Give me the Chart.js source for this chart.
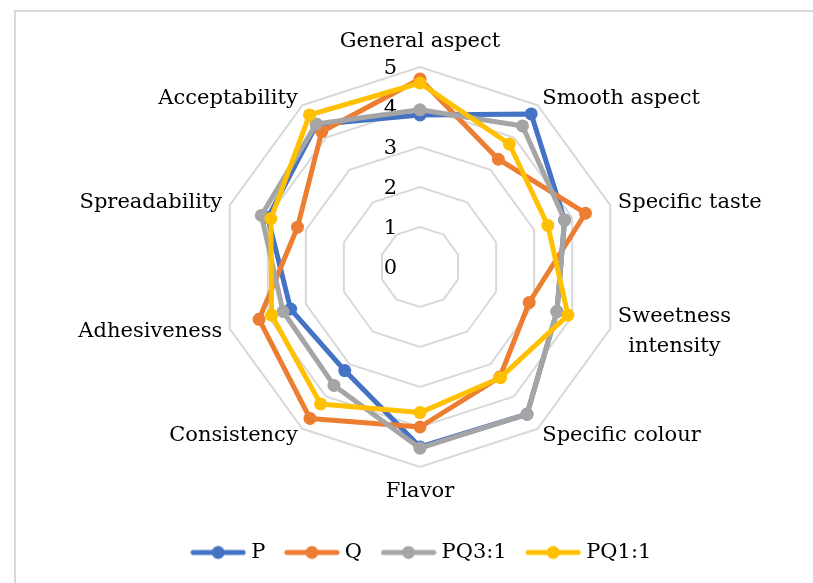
<!DOCTYPE html>
<html>
<head>
<meta charset="utf-8">
<script src="https://cdn.jsdelivr.net/npm/chart.js@4.4.0/dist/chart.umd.min.js"></script>
<style>
    body { margin: 0; background: #ffffff; }
    #frame {
        position: absolute; left: 14px; top: 10px; width: 820px; height: 600px;
        border-left: 2px solid #d9d9d9; border-top: 2px solid #d9d9d9;
    }
    #wrap { position: absolute; left: 0; top: 0; width: 813px; height: 583px; }
</style>
</head>
<body>
<div id="frame"></div>
<div id="wrap"><canvas id="radar_canvas" width="813" height="583"></canvas></div>
<script>
// categories (axes), clockwise from the top
const CATEGORIES = ['General aspect', 'Smooth aspect', 'Specific taste', ['Sweetness', 'intensity'],
    'Specific colour', 'Flavor', 'Consistency', 'Adhesiveness', 'Spreadability', 'Acceptability'];
const TICK_LABELS = ['0', '1', '2', '3', '4', '5'];
const SERIES_NAMES = ['P', 'Q', 'PQ3:1', 'PQ1:1'];
const P_VALUES = [3.8, 4.73, 3.8, 3.6, 4.55, 4.5, 3.2, 3.4, 4.0, 4.4];
const Q_VALUES = [4.7, 3.33, 4.35, 2.87, 3.4, 4.0, 4.68, 4.23, 3.22, 4.18];
const PQ31_VALUES = [3.93, 4.36, 3.8, 3.6, 4.55, 4.53, 3.66, 3.6, 4.17, 4.42];
const PQ11_VALUES = [4.6, 3.8, 3.36, 3.89, 3.42, 3.64, 4.23, 3.9, 3.92, 4.7];
const SERIES_COLORS = ['#4472c4', '#ed7d31', '#a5a5a5', '#ffc000'];

const FONT_FAMILY = '"DejaVu Serif", "Liberation Serif", serif';
const FONT_SIZE = 21;

// plot placement inside the canvas (center and outer radius of the web)
const PLOT_CENTER_X = 420;
const PLOT_CENTER_Y = 267;
const PLOT_RADIUS = 200;

// keep the web where the original sits instead of letting the labels push it around
Chart.RadialLinearScale.prototype.setCenterPoint = function () {
    this.xCenter = PLOT_CENTER_X;
    this.yCenter = PLOT_CENTER_Y;
    this.drawingArea = PLOT_RADIUS;
};

// legend marker: line with a dot, like the office style
function make_marker(color) {
    let c = document.createElement('canvas');
    c.width = 56;
    c.height = 16;
    let ctx = c.getContext('2d');
    ctx.strokeStyle = color;
    ctx.lineWidth = 5;
    ctx.lineCap = 'round';
    ctx.beginPath();
    ctx.moveTo(3, 8);
    ctx.lineTo(53, 8);
    ctx.stroke();
    ctx.fillStyle = color;
    ctx.beginPath();
    ctx.arc(28, 8, 6.5, 0, Math.PI * 2);
    ctx.fill();
    return c;
}

let all_values = [P_VALUES, Q_VALUES, PQ31_VALUES, PQ11_VALUES];
let datasets = [];
for (let i = 0; i < SERIES_NAMES.length; i++) {
    datasets.push({
        label: SERIES_NAMES[i],
        data: all_values[i],
        borderColor: SERIES_COLORS[i],
        backgroundColor: SERIES_COLORS[i],
        pointBackgroundColor: SERIES_COLORS[i],
        pointBorderColor: SERIES_COLORS[i],
        borderWidth: 5,
        pointRadius: 6.5,
        pointBorderWidth: 0,
        fill: false,
        tension: 0,
        // later series drawn on top
        order: SERIES_NAMES.length - i
    });
}

// tick labels left of the vertical axis (0 included) and
// category labels centred on their spoke, like the original
const label_plugin = {
    id: 'radar_labels',
    beforeDatasetsDraw(chart) {
        let scale = chart.scales.r;
        let ctx = chart.ctx;
        ctx.save();
        ctx.font = FONT_SIZE + 'px ' + FONT_FAMILY;
        ctx.fillStyle = '#000000';
        ctx.textBaseline = 'middle';

        ctx.textAlign = 'right';
        for (let i = 0; i < TICK_LABELS.length; i++) {
            let d = scale.getDistanceFromCenterForValue(parseFloat(TICK_LABELS[i]));
            ctx.fillText(TICK_LABELS[i], scale.xCenter - 23, scale.yCenter - d + 2);
        }

        const line_height = 30;
        for (let i = 0; i < CATEGORIES.length; i++) {
            let lines = [].concat(CATEGORIES[i]);
            let pos = scale.getPointPosition(i, scale.drawingArea + 8);
            let dx = pos.x - scale.xCenter;
            let block_w = Math.max(...lines.map(t => ctx.measureText(t).width));
            let block_h = line_height * lines.length;
            let left;
            let top = pos.y - block_h / 2;
            if (Math.abs(dx) < 1) {
                left = pos.x - block_w / 2;
                // top / bottom spokes: label sits above or below the tip
                top += (pos.y < scale.yCenter ? -17 : 17);
            } else if (dx > 0) {
                left = pos.x;
            } else {
                left = pos.x - block_w;
            }
            ctx.textAlign = 'center';
            for (let k = 0; k < lines.length; k++) {
                ctx.fillText(lines[k], left + block_w / 2, top + line_height * (k + 0.5));
            }
        }
        ctx.restore();
    }
};

let THE_CHART = new Chart(document.getElementById('radar_canvas'), {
    type: 'radar',
    data: {
        labels: CATEGORIES,
        datasets: datasets
    },
    options: {
        responsive: false,
        animation: false,
        layout: {padding: {left: 34, right: 0, top: 0, bottom: 10}},
        elements: {line: {borderJoinStyle: 'round'}},
        plugins: {
            tooltip: {enabled: false},
            legend: {
                position: 'bottom',
                labels: {
                    usePointStyle: true,
                    pointStyleWidth: 45,
                    padding: 24,
                    color: '#000000',
                    font: {family: FONT_FAMILY, size: FONT_SIZE},
                    generateLabels: function (chart) {
                        return chart.data.datasets.map((ds, i) => ({
                            text: ds.label,
                            pointStyle: make_marker(SERIES_COLORS[i]),
                            fillStyle: SERIES_COLORS[i],
                            strokeStyle: SERIES_COLORS[i],
                            lineWidth: 0,
                            hidden: false,
                            datasetIndex: i
                        }));
                    }
                }
            }
        },
        scales: {
            r: {
                min: 0,
                max: 5,
                ticks: {stepSize: 1, display: false},
                angleLines: {display: false},
                grid: {color: '#d9d9d9', lineWidth: 2},
                pointLabels: {display: false}
            }
        }
    },
    plugins: [label_plugin]
});
</script>
</body>
</html>
